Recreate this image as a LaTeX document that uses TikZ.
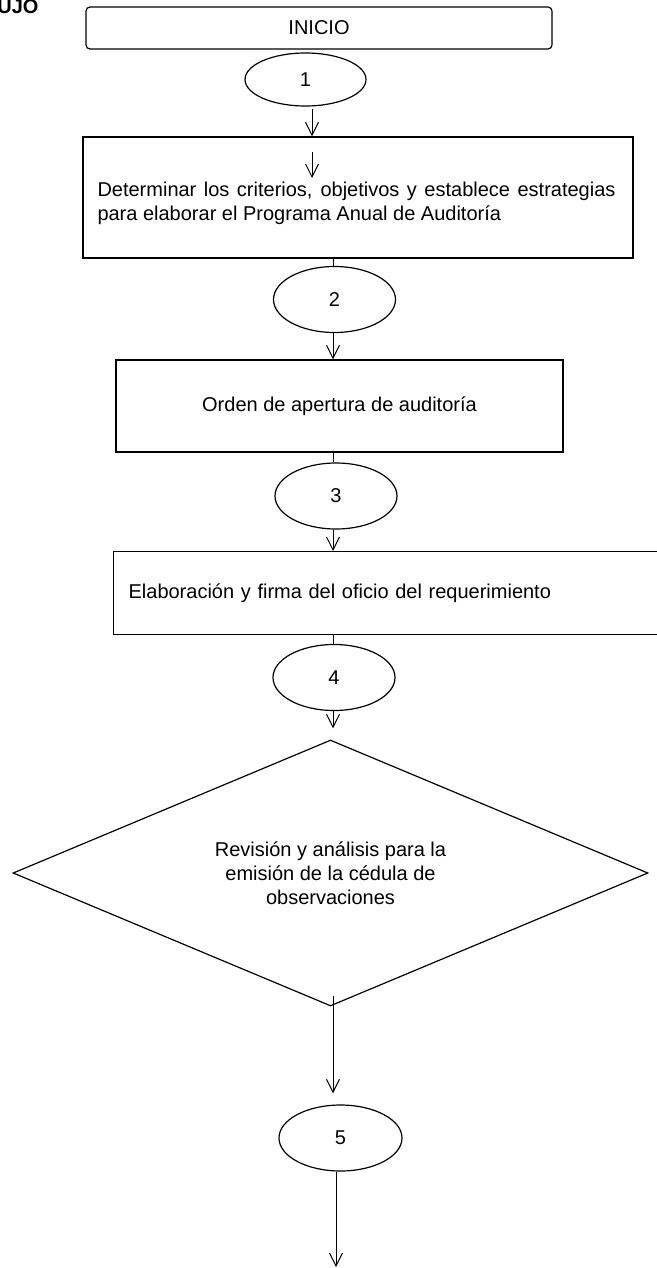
\documentclass[tikz,border=0pt]{standalone}
\usepackage{fontspec}
\setmainfont{Liberation Sans}
\usepackage[]{tikz}
\usetikzlibrary{positioning}
\usetikzlibrary{arrows.meta}
\usetikzlibrary{shapes.geometric}
\tikzset{caja/.style={draw,line width=0.6pt,inner sep=0pt}}
\tikzset{burbuja/.style={draw,ellipse,line width=0.6pt,inner sep=0pt,minimum width=61pt,minimum height=33pt}}
\tikzset{flecha/.style={line width=0.5pt,-{Straight Barb[length=6.5pt,width=6.5pt]}}}
\tikzset{liga/.style={line width=0.5pt}}

\begin{document}
\begin{tikzpicture}[x=0.5pt,y=-0.5pt] % 1 unidad = 1 pixel, y hacia abajo
            \useasboundingbox (0,0) rectangle (657,1268);
            \clip (0,0) rectangle (657,1268);
            \coordinate (eje) at (333,0);
            \coordinate (eje1) at (312,0);
            \coordinate (eje5) at (336,0);
            \node[font=\bfseries,anchor=base west,inner sep=0pt] (titulo) at (-3,14) {UJO};
            \node[caja,rounded corners=2pt,minimum width=233pt,minimum height=21pt] (inicio) at (319,28) {INICIO};
            \node[burbuja,minimum width=60.5pt,minimum height=26.5pt] (e1) at (305.5,79.5) {1};
            \node[caja,minimum width=275pt,minimum height=60.5pt] (b1) at (358,197.5) {};
            \node[text width=259pt,align=justify,inner sep=0pt] (t1) at (356.5,203) {Determinar los criterios, objetivos y establece estrategias para elaborar el Programa Anual de Auditoría};
            \node[burbuja] (e2) at (334.5,299.5) {2};
            \node[caja,minimum width=223.5pt,minimum height=46pt] (b2) at (339.5,406) {Orden de apertura de auditoría};
            \node[burbuja] (e3) at (336,496) {3};
            \node[caja,anchor=north west,minimum width=300pt,minimum height=41.5pt,inner sep=7.5pt,text width=285pt,align=left] (b3) at (113,551) {Elaboración y firma del oficio del requerimiento};
            \node[burbuja] (e4) at (334,677.5) {4};
            \node[caja,diamond,aspect=2.4,minimum width=317.5pt,minimum height=133pt,align=center] (rombo) at (330.5,873) {Revisión y análisis para la\\emisión de la cédula de\\observaciones};
            \node[burbuja,minimum width=61.5pt] (e5) at (340.5,1138) {5};
            \coordinate (d1) at (312,152);
            \coordinate (d2) at (312,178);
            \coordinate (fin) at (336,1267);
            \draw[flecha,shorten <=1pt] (e1.south -| eje1) -- (b1.north -| eje1);
            \draw[flecha] (d1) -- (d2);
            \draw[liga] (b1.south -| eje) -- (e2.north -| eje);
            \draw[flecha] (e2.south -| eje) -- (b2.north -| eje);
            \draw[liga] (b2.south -| eje) -- (e3.north -| eje);
            \draw[flecha] (e3.south -| eje) -- (b3.north -| eje);
            \draw[liga] (b3.south -| eje) -- (e4.north -| eje);
            \draw[flecha,shorten >=5.5pt] (e4.south -| eje) -- (rombo.north -| eje);
            \draw[flecha,shorten <=-5.5pt,shorten >=5.5pt] (rombo.south -| eje) -- (e5.north -| eje);
            \draw[flecha] (e5.south -| eje5) -- (fin);
        \end{tikzpicture}
\end{document}
